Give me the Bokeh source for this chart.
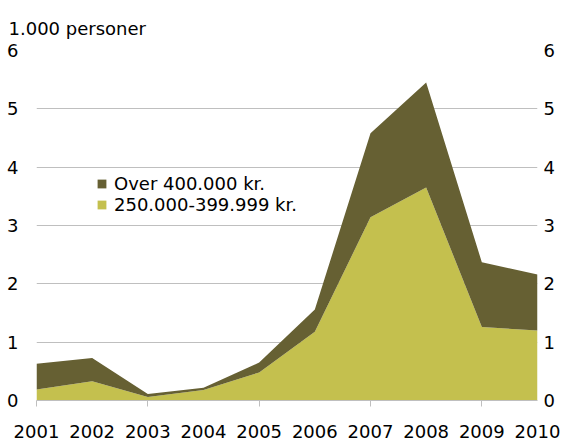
from bokeh.plotting import figure
from bokeh.models import FixedTicker, Legend, LegendItem, Range1d, LinearAxis
from bokeh.embed import file_html
from bokeh.resources import INLINE

years = [2001, 2002, 2003, 2004, 2005, 2006, 2007, 2008, 2009, 2010]
mid_band = [0.19, 0.33, 0.06, 0.18, 0.48, 1.18, 3.14, 3.65, 1.26, 1.20]   # 250.000-399.999 kr.
top_band = [0.44, 0.40, 0.05, 0.04, 0.17, 0.38, 1.44, 1.80, 1.11, 0.96]   # Over 400.000 kr.
y_ticks = [0, 1, 2, 3, 4, 5, 6]
unit_label = "1.000 personer"
name_mid = "250.000-399.999 kr."
name_top = "Over 400.000 kr."

FONT = "DejaVu Sans"
C_MID = "#c4c04e"
C_TOP = "#666033"
GRID = "#bfbfbf"

p = figure(width=566, height=442, output_backend="svg", toolbar_location=None,
           x_range=Range1d(2001, 2010), y_range=Range1d(0, 6),
           min_border_left=36, min_border_right=29, min_border_top=50, min_border_bottom=42,
           y_axis_location=None, title=unit_label)
p.outline_line_color = None
p.background_fill_color = "white"
p.border_fill_color = "white"

p.title.align = "left"
p.title.vertical_align = "top"
p.title.offset = -28
p.title.standoff = 20
p.title.text_font = FONT
p.title.text_font_size = "18px"
p.title.text_font_style = "normal"
p.title.text_color = "black"
p.title.text_line_height = 1.0
p.title.padding = 0

totals = [m + t for m, t in zip(mid_band, top_band)]
zeros = [0] * len(years)
r_mid = p.varea(x=years, y1=zeros, y2=mid_band, fill_color=C_MID)
r_top = p.varea(x=years, y1=mid_band, y2=totals, fill_color=C_TOP)

# grid
p.xgrid.grid_line_color = None
p.ygrid.ticker = FixedTicker(ticks=y_ticks[1:])
p.ygrid.grid_line_color = GRID
p.ygrid.grid_line_width = 1
p.ygrid.level = "underlay"

# x axis
xa = p.xaxis[0]
xa.ticker = FixedTicker(ticks=years, minor_ticks=years[::2])
xa.axis_line_color = GRID
xa.major_tick_line_color = None
xa.major_tick_out = 0
xa.major_tick_in = 0
xa.minor_tick_line_color = GRID
xa.minor_tick_out = 6
xa.minor_tick_in = 0
xa.major_label_standoff = 18
xa.major_label_text_font = FONT
xa.major_label_text_font_size = "18px"
xa.major_label_text_color = "black"

for side, standoff in (("left", 18), ("right", 6)):
    ax = LinearAxis(ticker=FixedTicker(ticks=y_ticks))
    ax.axis_line_color = None
    ax.major_tick_line_color = None
    ax.minor_tick_line_color = None
    ax.major_tick_out = 0
    ax.major_tick_in = 0
    ax.major_label_standoff = standoff
    ax.major_label_text_font = FONT
    ax.major_label_text_font_size = "18px"
    ax.major_label_text_color = "black"
    p.add_layout(ax, side)

legend = Legend(items=[LegendItem(label=name_top, renderers=[r_top]),
                       LegendItem(label=name_mid, renderers=[r_mid])],
                location=(60, 185), padding=0, margin=0, spacing=0,
                glyph_width=11, glyph_height=11, label_standoff=7,
                label_text_font=FONT, label_text_font_size="18px",
                label_text_color="black",
                border_line_color=None, background_fill_alpha=0)
p.add_layout(legend)

open("out.html", "w").write(file_html(p, INLINE))
